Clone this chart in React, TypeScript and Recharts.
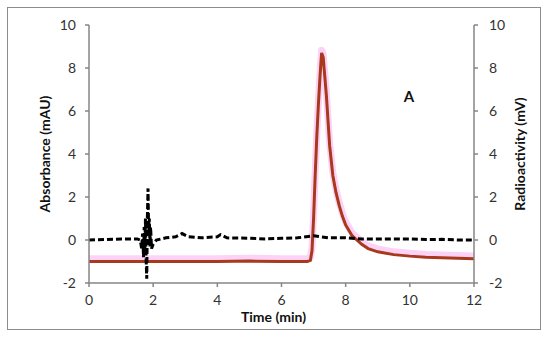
import React from 'react';
import { ComposedChart, Line, XAxis, YAxis, ReferenceDot } from 'recharts';

const xTicks = [0, 2, 4, 6, 8, 10, 12];
const yTicks = [-2, 0, 2, 4, 6, 8, 10];

const absTime = [0, 0.5, 1.0, 1.5, 1.6, 1.64, 1.67, 1.7, 1.72, 1.74, 1.76, 1.78, 1.8, 1.82, 1.84, 1.86, 1.88, 1.9, 1.92, 1.95, 2.0, 2.1, 2.4, 2.7, 2.9, 3.1, 3.5, 4.0, 4.1, 4.3, 5.0, 5.5, 6.0, 6.5, 7.0, 7.2, 7.5, 8.0, 8.5, 9.0, 10.0, 10.5, 11.0, 11.5, 12.0];
const absValues = [0.0, 0.02, 0.05, 0.05, 0.0, -0.4, 0.3, -0.8, 0.6, -0.5, 1.0, -0.9, -1.8, 1.1, 2.4, 0.2, 1.0, -0.3, 0.6, -0.4, -0.2, 0.0, 0.1, 0.15, 0.3, 0.15, 0.1, 0.15, 0.25, 0.1, 0.08, 0.05, 0.08, 0.1, 0.2, 0.15, 0.1, 0.1, 0.05, 0.05, 0.05, 0.02, 0.03, 0.0, 0.0];

const radTime = [0, 1, 2, 3, 4, 5, 6, 6.8, 6.9, 6.95, 7.0, 7.05, 7.1, 7.15, 7.2, 7.25, 7.3, 7.35, 7.4, 7.5, 7.6, 7.7, 7.8, 7.9, 8.0, 8.2, 8.35, 8.5, 8.7, 9.0, 9.5, 10, 10.5, 11, 11.5, 12];
const radValues = [-1.0, -1.0, -1.0, -1.0, -1.0, -0.98, -1.0, -1.0, -0.95, -0.5, 1.0, 3.0, 4.8, 6.3, 7.6, 8.7, 8.5, 7.6, 6.7, 4.4, 3.0, 2.2, 1.6, 1.1, 0.7, 0.2, 0.0, -0.2, -0.4, -0.55, -0.68, -0.75, -0.8, -0.83, -0.85, -0.87];
const radSpread = [0.13, 0.13, 0.13, 0.13, 0.13, 0.13, 0.13, 0.13, 0.13, 0.13, 0.13, 0.13, 0.13, 0.13, 0.13, 0.13, 0.13, 0.13, 0.13, 0.13, 0.13, 0.13, 0.13, 0.13, 0.13, 0.13, 0.13, 0.13, 0.13, 0.13, 0.13, 0.13, 0.13, 0.13, 0.13, 0.13];

const absData = absTime.map((t, i) => ({ t, abs: absValues[i] }));
const radData = radTime.map((t, i) => ({ t, rad: radValues[i], band: radValues[i] + radSpread[i] }));

const FONT = 'Lato, "Open Sans", sans-serif';
const AXIS = '#868686';
const tickStyle = { fontSize: 14, fill: '#333', fontFamily: FONT };
const labelStyle = { fontSize: 14, fontWeight: 700, fill: '#111', fontFamily: FONT, textAnchor: 'middle' as const };

export default function App() {
  return (
    <div style={{ position: 'absolute', left: 0, top: 0, width: 550, height: 340, background: '#fff' }}>
      <div style={{ position: 'absolute', left: 7, top: 7, width: 534, height: 323, border: '1px solid #8c8c8c', boxSizing: 'border-box' }} />
      <div style={{ position: 'absolute', left: 0, top: 0 }}>
        <ComposedChart width={550} height={340} margin={{ top: 25, right: 36, bottom: 12, left: 49 }}>
          <XAxis
            dataKey="t"
            type="number"
            domain={[0, 12]}
            ticks={xTicks}
            allowDataOverflow
            height={45}
            tickSize={4}
            tickMargin={8}
            axisLine={{ stroke: AXIS, strokeWidth: 1.5 }}
            tickLine={{ stroke: AXIS, strokeWidth: 1.5 }}
            tick={tickStyle}
            label={{ value: 'Time (min)', position: 'insideBottom', offset: 6, dx: -8, style: labelStyle }}
          />
          <YAxis
            yAxisId="left"
            orientation="left"
            type="number"
            domain={[-2, 10]}
            ticks={yTicks}
            allowDataOverflow
            width={40}
            tickSize={4}
            tickMargin={9}
            axisLine={{ stroke: AXIS, strokeWidth: 1.5 }}
            tickLine={{ stroke: AXIS, strokeWidth: 1.5 }}
            tick={tickStyle}
            label={{ value: 'Absorbance (mAU)', position: 'left', offset: 4, angle: -90, style: labelStyle }}
          />
          <YAxis
            yAxisId="right"
            orientation="right"
            type="number"
            domain={[-2, 10]}
            ticks={yTicks}
            allowDataOverflow
            width={40}
            tickSize={4}
            tickMargin={11}
            axisLine={{ stroke: AXIS, strokeWidth: 1.5 }}
            tickLine={{ stroke: AXIS, strokeWidth: 1.5 }}
            tick={tickStyle}
            label={{ value: 'Radioactivity (mV)', position: 'right', offset: 6, angle: -90, style: labelStyle }}
          />
          <Line
            yAxisId="right"
            data={radData}
            dataKey="band"
            type="linear"
            stroke="#fcd3f6"
            strokeWidth={7}
            dot={false}
            activeDot={false}
            isAnimationActive={false}
            strokeLinejoin="round"
          />
          <Line
            yAxisId="right"
            data={radData}
            dataKey="rad"
            type="linear"
            stroke="#a8391c"
            strokeWidth={3}
            dot={false}
            activeDot={false}
            isAnimationActive={false}
          />
          <Line
            yAxisId="left"
            data={absData}
            dataKey="abs"
            type="linear"
            stroke="#000"
            strokeWidth={3}
            strokeDasharray="6 3"
            dot={false}
            activeDot={false}
            isAnimationActive={false}
          />
          <ReferenceDot
            yAxisId="left"
            x={9.97}
            y={6.67}
            r={0}
            fill="none"
            stroke="none"
            label={{ value: 'A', position: 'center', style: { fontSize: 15, fontWeight: 700, fill: '#111', fontFamily: FONT } }}
          />
        </ComposedChart>
      </div>
    </div>
  );
}
